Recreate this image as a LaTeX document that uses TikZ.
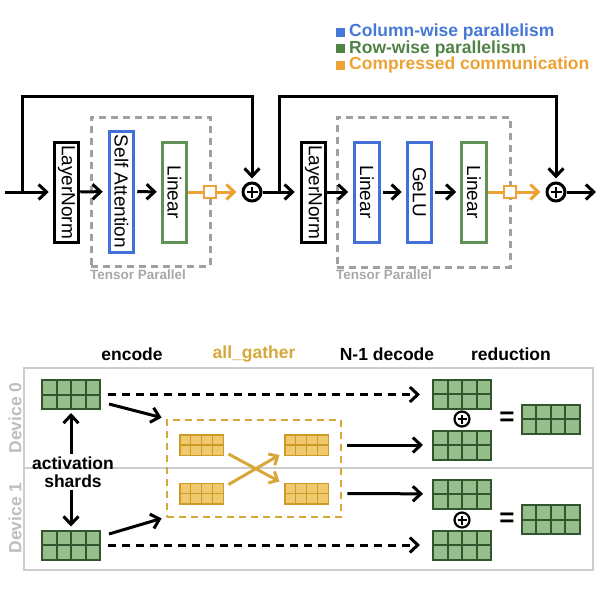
\documentclass[tikz,border=0pt]{standalone}
\usepackage{fontspec}
\setmainfont{Liberation Sans}
\usetikzlibrary{arrows.meta,calc}
\definecolor{blueb}{RGB}{66,112,214}
\definecolor{greenb}{RGB}{98,145,85}
\definecolor{orangec}{RGB}{236,162,52}
\definecolor{goldc}{RGB}{214,168,58}
\definecolor{gfill}{RGB}{150,190,140}
\definecolor{gdark}{RGB}{50,85,45}
\definecolor{yfill}{RGB}{240,200,110}
\definecolor{ydark}{RGB}{205,155,40}
\definecolor{tpgray}{RGB}{160,160,160}
\definecolor{tplgray}{RGB}{168,168,168}
\definecolor{framegray}{RGB}{205,205,205}
\definecolor{devgray}{RGB}{190,190,190}
\definecolor{legblue}{RGB}{70,120,215}
\definecolor{leggreen}{RGB}{80,130,70}
\begin{document}
\begin{tikzpicture}[x=1pt,y=-1pt,
  tip/.style={-{Straight Barb[length=8pt,width=15pt]}},
  arr/.style={line width=3pt, tip},
  darr/.style={line width=3pt, dash pattern=on 8pt off 6pt, tip},
  oarr/.style={draw=orangec, line width=3pt, tip},
  oline/.style={draw=orangec, line width=3pt},
  garr/.style={draw=goldc, line width=3pt, -{Straight Barb[length=7pt,width=13pt]}},
  box/.style={draw, line width=3pt, rotate=-90, minimum width=100pt, minimum height=24.5pt, inner sep=0pt, fill=white, font=\fontsize{19}{21}\selectfont},
  tpbox/.style={draw=tpgray, line width=3pt, dash pattern=on 7pt off 5pt, inner sep=0pt},
  tplabel/.style={text=tplgray, font=\bfseries\fontsize{13.5}{15}\selectfont, inner sep=0pt, anchor=west},
  plusc/.style={circle, draw, line width=3pt, minimum size=18pt, inner sep=0pt, fill=white,
     path picture={\draw[line width=2.8pt] (path picture bounding box.center) ++(-5.5,0) -- ++(11,0);
                   \draw[line width=2.8pt] (path picture bounding box.center) ++(0,-5.5) -- ++(0,11);}},
  plusd/.style={circle, draw, line width=2.2pt, minimum size=15pt, inner sep=0pt, fill=white,
     path picture={\draw[line width=2.2pt] (path picture bounding box.center) ++(-4.5,0) -- ++(9,0);
                   \draw[line width=2.2pt] (path picture bounding box.center) ++(0,-4.5) -- ++(0,9);}},
  osq/.style={draw=orangec, fill=white, line width=2.5pt, minimum size=12pt, inner sep=0pt},
  legsq/.style={minimum size=9pt, inner sep=0pt},
  legtxt/.style={font=\bfseries\fontsize{17.5}{18}\selectfont, anchor=west, inner sep=0pt},
  hdr/.style={font=\bfseries\fontsize{17.5}{18}\selectfont, inner sep=0pt},
  devbox/.style={draw=framegray, line width=2pt, minimum width=569pt, inner sep=0pt},
  devlabel/.style={text=devgray, font=\bfseries\fontsize{17.5}{18}\selectfont, rotate=90, inner sep=0pt},
  grid/.style={path picture={
     \foreach \f in {0.25,0.5,0.75}{
       \draw[#1] ($(path picture bounding box.north west)!\f!(path picture bounding box.north east)$) --
                 ($(path picture bounding box.south west)!\f!(path picture bounding box.south east)$);}
     \draw[#1] (path picture bounding box.west) -- (path picture bounding box.east);}},
  gm/.style={draw=gdark, fill=gfill, line width=2pt, minimum width=58pt, minimum height=29pt, inner sep=0pt, grid={gdark,line width=2pt}},
  ym/.style={draw=ydark, fill=yfill, line width=1.5pt, minimum width=43.5pt, minimum height=20.5pt, inner sep=0pt, grid={ydark,line width=1.3pt}},
  gbox/.style={draw=goldc, line width=2.8pt, dash pattern=on 7pt off 5pt, minimum width=174pt, minimum height=97pt, inner sep=0pt},
  eqs/.style={font=\bfseries\fontsize{26}{26}\selectfont, inner sep=0pt}
]
\useasboundingbox (0,0) rectangle (600,600);

% ---------- legend ----------
\node[legsq, fill=legblue] (lq1) at (340,32) {};
\node[legtxt, text=legblue] (lt1) at (349,32) {Column-wise parallelism};
\node[legsq, fill=leggreen] (lq2) at (340,48.5) {};
\node[legtxt, text=leggreen] (lt2) at (349,48.5) {Row-wise parallelism};
\node[legsq, fill=orangec] (lq3) at (340,65) {};
\node[legtxt, text=orangec] (lt3) at (349,65) {Compressed communication};

% ---------- top: tensor parallel blocks ----------
\node[tpbox, minimum width=119pt, minimum height=149pt] (tp1) at (150.5,191.5) {};
\node[tpbox, minimum width=173pt, minimum height=150pt] (tp2) at (423.5,192) {};
\node[tplabel] (tpl1) at (90,275) {Tensor Parallel};
\node[tplabel] (tpl2) at (336,275) {Tensor Parallel};

\node[box] (ln1) at (66.5,192) {LayerNorm};
\node[box, draw=blueb, minimum width=121pt] (sa1) at (121.5,191.5) {Self Attention};
\node[box, draw=greenb] (lin1) at (174.5,192) {Linear};
\node[box] (ln2) at (313.5,192) {LayerNorm};
\node[box, draw=blueb] (lin2) at (367,192) {Linear};
\node[box, draw=blueb] (gelu) at (419.5,192) {GeLU};
\node[box, draw=greenb] (lin3) at (474,192) {Linear};

\node[plusc] (p1) at (252,192) {};
\node[plusc] (p2) at (556,192) {};

\coordinate (in1) at (5,192);
\coordinate (s1) at (22,192);
\coordinate (t1) at (252,96);
\coordinate (s2) at (279,192);
\coordinate (t2) at (556,96);
\coordinate (out1) at (596,192);

\draw[arr, shorten >=4pt] (in1) -- (ln1);
\draw[arr, shorten >=3pt] (s1) |- (t1) -- (p1);
\draw[arr, shorten >=5pt] (ln1) -- (sa1);
\draw[arr, shorten <=2pt, shorten >=4pt] (sa1) -- (lin1);
\draw[arr, shorten >=5pt] (p1) -- (ln2);
\draw[arr, shorten >=3pt] (s2) |- (t2) -- (p2);
\draw[arr, shorten >=5pt] (ln2) -- (lin2);
\draw[arr, shorten <=2pt, shorten >=4pt] (lin2) -- (gelu);
\draw[arr, shorten <=2pt, shorten >=4pt] (gelu) -- (lin3);
\draw[arr] (p2) -- (out1);

\node[osq] (q1) at (210,192) {};
\node[osq] (q2) at (510,192) {};
\draw[oline] (lin1) -- (q1);
\draw[oarr, shorten >=5pt] (q1) -- (p1);
\draw[oline] (lin3) -- (q2);
\draw[oarr, shorten >=5pt] (q2) -- (p2);

% ---------- bottom: compressed all-gather ----------
\node[hdr] (h1) at (132,354) {encode};
\node[hdr, text=goldc] (h2) at (254,354) {all\_gather};
\node[hdr] (h3) at (387,354) {N-1 decode};
\node[hdr] (h4) at (511,354) {reduction};

\node[devbox, minimum height=100pt] (dev0) at (308.5,418) {};
\node[devbox, minimum height=102pt] (dev1) at (308.5,519) {};
\node[devlabel] (dl0) at (15,418) {Device 0};
\node[devlabel] (dl1) at (15,518) {Device 1};

\node[gm] (m0) at (71,394.5) {};
\node[gm] (m1) at (71,545) {};
\node[hdr, align=center, inner sep=2pt] (act) at (73,472) {activation\\shards};
\draw[arr, shorten >=3pt] (act.north -| m0.south) -- (m0.south);
\draw[arr, shorten >=3pt] (act.south -| m1.north) -- (m1.north);

\node[gbox] (ag) at (254,468.5) {};
\node[ym] (y0l) at (201.5,445) {};
\node[ym] (y1l) at (201.5,493.5) {};
\node[ym] (y0r) at (306.5,445) {};
\node[ym] (y1r) at (306.5,493.5) {};
\draw[garr] ([xshift=4.5pt,yshift=2pt]y0l.south east) -- ([xshift=-4.5pt,yshift=1pt]y1r.north west);
\draw[garr] ([xshift=4.5pt,yshift=-2pt]y1l.north east) -- ([xshift=-4.5pt,yshift=1pt]y0r.south west);

\draw[arr] ([xshift=8pt,yshift=-9.5pt]m0.east) -- ([xshift=-4pt,yshift=1pt]ag.north west);
\draw[arr] ([xshift=8pt,yshift=11pt]m1.east) -- ([xshift=-4pt]ag.south west);

\node[gm] (d0a) at (462,394) {};
\node[gm] (d0b) at (462,445) {};
\node[gm] (d1a) at (462,494) {};
\node[gm] (d1b) at (462,545) {};
\node[plusd] (c0) at (462,419) {};
\node[plusd] (c1) at (462,520) {};
\node[eqs] (e0) at (507,419) {=};
\node[eqs] (e1) at (507,520) {=};
\node[gm] (r0) at (550.5,419) {};
\node[gm] (r1) at (550.5,519.5) {};

\draw[darr, shorten <=7pt, shorten >=12pt] (m0.east) -- (m0.east -| d0a.west);
\draw[darr, shorten <=7pt, shorten >=12pt] (m1.east) -- (m1.east -| d1b.west);
\draw[arr, shorten <=5pt, shorten >=9pt] (ag.east |- y0r) -- (d0b);
\draw[arr, shorten <=5pt, shorten >=9pt] (ag.east |- y1r) -- (d1a);
\end{tikzpicture}
\end{document}
